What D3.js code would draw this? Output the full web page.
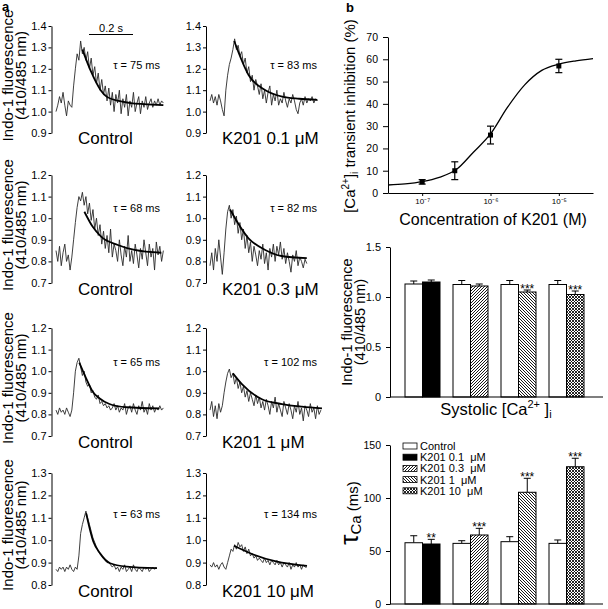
<!DOCTYPE html>
<html><head><meta charset="utf-8">
<script src="https://cdn.jsdelivr.net/npm/d3@7"></script>
<style>body{margin:0;background:#fff} svg{display:block;font-family:"Liberation Sans",Arial,sans-serif}</style>
</head><body><svg id="fig" width="608" height="609"></svg>
<script>
// ---------------- DATA ----------------
// Panel a: Indo-1 traces, one sample every 8 ms
const sampleMs = 8;
const conditions = ["Control", "K201 0.1 \u03bcM", "Control", "K201 0.3 \u03bcM", "Control", "K201 1 \u03bcM", "Control", "K201 10 \u03bcM"];
const tauMs = [75, 83, 68, 82, 65, 102, 63, 134];
const rowDomains = [[0.9, 1.4], [0.7, 1.2], [0.7, 1.2], [0.8, 1.3]];
const rowTicks = [[0.9,1.0,1.1,1.2,1.3,1.4],[0.7,0.8,0.9,1.0,1.1,1.2],[0.7,0.8,0.9,1.0,1.1,1.2],[0.8,0.9,1.0,1.1,1.2,1.3]];

const traceControlA = [1.00,1.03,1.07,1.04,1.09,1.03,0.98,1.05,1.03,1.02,
 1.12,1.20,1.27,1.24,
 1.33,1.27,1.30,1.24,1.28,1.20,1.25,1.17,1.21,1.13,1.18,1.10,1.15,1.08,1.12,1.05,1.11,1.03,1.09,1.00,
 1.08,1.04,1.10,0.99,1.06,1.02,1.08,0.98,1.05,1.02,1.09,1.00,1.04,1.07,0.99,1.05,1.02,1.07,1.01,1.04,
 1.06,1.02,1.05,1.03,1.06,1.03,1.05,1.04];
const traceK201_01 = [1.05,1.08,1.04,1.07,1.03,1.08,1.05,1.01,0.98,
 1.10,1.17,1.22,1.25,1.29,
 1.34,1.29,1.31,1.26,1.28,1.22,1.25,1.18,1.21,1.14,1.17,1.10,1.15,1.12,1.08,1.13,1.06,1.10,1.04,1.09,
 1.12,1.03,1.08,1.05,1.10,1.03,1.06,1.04,1.09,1.05,1.02,1.06,1.04,1.08,1.05,1.01,0.99,1.04,1.06,1.03,
 1.07,1.04,1.06,1.05,1.07,1.04,1.06,1.05];
const traceControlB = [0.85,0.80,0.87,0.78,0.84,0.88,0.80,0.83,0.76,0.82,
 0.90,0.98,1.05,1.10,1.08,
 1.12,1.06,1.10,1.02,1.07,0.99,1.04,0.95,1.00,0.92,0.97,0.88,0.94,0.86,0.92,0.84,0.95,0.82,0.88,0.85,
 0.80,0.90,0.83,0.78,0.87,0.82,0.92,0.80,0.85,0.79,0.88,0.83,0.77,0.86,0.81,0.90,0.84,0.78,0.88,0.82,
 0.86,0.76,0.89,0.83,0.87,0.80,0.85];
const traceK201_03 = [0.78,0.84,0.76,0.86,0.80,0.90,0.82,0.74,0.84,
 0.95,1.03,1.06,
 1.00,1.04,0.97,1.01,0.93,0.98,0.90,0.95,0.86,0.92,0.84,0.89,0.80,0.87,0.83,0.78,0.85,0.81,0.88,0.79,
 0.84,0.76,0.86,0.82,0.88,0.80,0.87,0.83,0.89,0.81,0.86,0.79,0.84,0.80,0.75,0.83,0.80,0.85,0.78,0.82,
 0.80,0.77,0.81,0.79];
const traceControlC = [0.82,0.80,0.83,0.81,0.82,0.80,0.83,0.81,0.79,0.82,
 0.90,1.00,1.04,
 1.06,1.02,0.98,1.00,0.95,0.93,0.94,0.90,0.91,0.88,0.87,0.89,0.85,0.86,0.84,0.85,0.83,0.84,0.82,0.83,
 0.85,0.82,0.84,0.81,0.83,0.82,0.85,0.80,0.83,0.84,0.81,0.85,0.82,0.80,0.84,0.82,0.86,0.81,0.83,0.80,
 0.85,0.82,0.84,0.81,0.83,0.82,0.84,0.82,0.83];
const traceK201_1 = [0.82,0.86,0.79,0.84,0.78,0.85,0.81,0.84,
 0.90,0.95,0.99,1.01,
 0.97,0.99,0.94,0.97,0.92,0.95,0.90,0.93,0.88,0.91,0.86,0.90,0.87,0.84,0.89,0.85,0.88,0.83,0.86,0.82,
 0.87,0.84,0.80,0.86,0.83,0.88,0.81,0.85,0.82,0.79,0.86,0.83,0.80,0.85,0.82,0.78,0.84,0.81,0.86,0.80,
 0.83,0.77,0.84,0.82,0.79,0.85,0.81,0.83,0.78,0.84,0.80,0.82];
const traceControlD = [0.87,0.86,0.88,0.87,0.88,0.86,0.88,0.87,0.89,0.87,0.86,0.88,0.87,
 0.93,1.03,1.07,1.10,1.13,1.10,1.07,1.04,1.01,0.99,0.97,0.95,0.94,0.93,0.92,0.91,0.90,0.90,0.89,0.88,
 0.89,0.87,0.88,0.86,0.88,0.87,0.89,0.86,0.87,0.88,0.86,0.89,0.87,0.86,0.88,0.87,0.86,0.88,0.87,0.88,
 0.86,0.87,0.88,0.87,0.88];
const traceK201_10 = [0.89,0.88,0.90,0.88,0.89,0.87,0.89,0.90,0.88,0.87,
 0.90,0.93,0.96,0.95,0.98,0.96,0.99,0.97,0.98,0.95,0.97,0.94,0.96,0.93,0.94,0.92,0.93,0.91,0.92,0.91,
 0.90,0.92,0.90,0.91,0.89,0.91,0.90,0.89,0.91,0.89,0.90,0.88,0.90,0.89,0.88,0.90,0.87,0.89,0.88,0.90,
 0.88,0.89,0.87,0.89,0.88,0.88];

// fitted exponential decays, [time ms, ratio]
const fitControlA = [[120,1.29],[158,1.19],[203,1.10],[230,1.07],[285,1.05],[340,1.04],[400,1.035],[488,1.03]];
const fitK201_01 = [[110,1.33],[176,1.17],[252,1.10],[328,1.07],[405,1.06],[488,1.055]];
const fitControlB = [[129,1.03],[167,0.96],[205,0.915],[281,0.876],[357,0.853],[479,0.84]];
const fitK201_03 = [[91,1.04],[175,0.907],[251,0.853],[325,0.825],[440,0.815]];
const fitControlC = [[106,1.04],[137,0.967],[167,0.905],[197,0.875],[243,0.848],[320,0.833],[470,0.828]];
const fitK201_1 = [[104,0.99],[145,0.94],[236,0.87],[327,0.848],[418,0.836],[509,0.828]];
const fitControlD = [[137,1.12],[170,0.993],[201,0.94],[246,0.897],[322,0.882],[459,0.875]];
const fitK201_10 = [[109,0.975],[200,0.935],[300,0.905],[441,0.885]];

// Panel b (top): dose-response
const concM = [1e-7, 3e-7, 1e-6, 1e-5];
const inhibition = [5, 10, 26, 57];
const inhibitionErr = [1, 4, 4, 3];
const fitLogConc = [-7.5, -7.25, -7, -6.75, -6.5, -6.25, -6, -5.75, -5.5, -5.25, -5, -4.75, -4.5];
const fitInhibition = [3.6, 4.1, 5.1, 7.0, 10.5, 18.3, 26.5, 38.5, 48.5, 55, 57.8, 59.3, 60.3];
const concTicks = [1e-7, 1e-6, 1e-5];
const concTickLabels = ["10\u207b\u2077", "10\u207b\u2076", "10\u207b\u2075"];

// Panel b (middle/bottom): bars
const barGroups = ["0.1", "0.3", "1", "10"];
const systolicControl = [1.13, 1.125, 1.125, 1.125];
const systolicControlErr = [0.03, 0.04, 0.04, 0.04];
const systolicK201 = [1.15, 1.11, 1.05, 1.025];
const systolicK201Err = [0.02, 0.02, 0.02, 0.035];
const systolicStars = ["", "", "***", "***"];
const tauControl = [57.8, 57.2, 58.8, 57.2];
const tauControlErr = [6.6, 2.5, 4.7, 3.2];
const tauK201 = [56.6, 65.1, 105.4, 129.5];
const tauK201Err = [4.4, 6.3, 13.2, 8.0];
const tauStars = ["**", "***", "***", "***"];
const legendLabels = ["Control", "K201 0.1 \u00a0\u03bcM", "K201 0.3 \u00a0\u03bcM", "K201 1 \u00a0\u03bcM", "K201 10 \u00a0\u03bcM"];

// ---------------- DRAWING ----------------
const svg = d3.select("#fig");
const FONT = '"Liberation Sans",Arial,sans-serif';
const defs = svg.append("defs");
function pat(id, d, w) {
  const p = defs.append("pattern").attr("id", id).attr("patternUnits", "userSpaceOnUse")
    .attr("width", 3).attr("height", 3);
  p.append("rect").attr("width", 3).attr("height", 3).attr("fill", "#fff");
  p.append("path").attr("d", d).attr("stroke", "#000").attr("stroke-width", w).attr("fill", "none");
}
pat("fwd", "M-1,1 L1,-1 M0,3 L3,0 M2,4 L4,2", 0.9);
pat("bwd", "M-1,2 L1,4 M0,0 L3,3 M2,-1 L4,1", 0.9);
pat("cross", "M-1,1 L1,-1 M0,3 L3,0 M2,4 L4,2 M-1,2 L1,4 M0,0 L3,3 M2,-1 L4,1", 0.85);
const drugFills = ["#000", "url(#fwd)", "url(#bwd)", "url(#cross)"];

function styleAxis(g, size) {
  g.attr("font-family", FONT).attr("font-size", size);
  g.selectAll("text").attr("fill", "#000");
  g.selectAll("line,path").attr("stroke", "#000");
}

// panel letters
svg.append("text").attr("x", 2).attr("y", 11).attr("font-weight", "bold").attr("font-size", 13).attr("font-family", FONT).text("a");
svg.append("text").attr("x", 346).attr("y", 12).attr("font-weight", "bold").attr("font-size", 13).attr("font-family", FONT).text("b");

// ---- Panel a ----
const traces = [traceControlA, traceK201_01, traceControlB, traceK201_03, traceControlC, traceK201_1, traceControlD, traceK201_10];
const fits = [fitControlA, fitK201_01, fitControlB, fitK201_03, fitControlC, fitK201_1, fitControlD, fitK201_10];
const rowY = [[26, 133], [175, 283], [328, 436], [473, 585]];
const axisX = [51.5, 206];
const traceX0 = [56, 210];
const labelX = [78, 222];
const labelBase = [144, 295, 448, 597];

for (let i = 0; i < 8; i++) {
  const r = Math.floor(i / 2), c = i % 2;
  const y = d3.scaleLinear().domain(rowDomains[r]).range([rowY[r][1], rowY[r][0]]);
  const x = d3.scaleLinear().domain([0, 200]).range([traceX0[c], traceX0[c] + 44]);
  const ax = svg.append("g").attr("transform", `translate(${axisX[c]},0)`)
    .call(d3.axisLeft(y).tickValues(rowTicks[r]).tickSize(3).tickSizeOuter(0).tickPadding(2).tickFormat(d3.format(".1f")));
  styleAxis(ax, 11);
  const line = d3.line().x((d, k) => x(k * sampleMs)).y(d => y(d));
  svg.append("path").datum(traces[i]).attr("d", line).attr("fill", "none")
    .attr("stroke", "#2a2a2a").attr("stroke-width", 0.9).attr("stroke-linejoin", "round");
  const fl = d3.line().x(d => x(d[0])).y(d => y(d[1])).curve(d3.curveMonotoneX);
  svg.append("path").datum(fits[i]).attr("d", fl).attr("fill", "none").attr("stroke", "#000").attr("stroke-width", 1.8);
  svg.append("text").attr("x", c === 0 ? 160 : 317).attr("y", [69, 69, 212, 212, 366, 366, 518, 518][i])
    .attr("text-anchor", "end").attr("font-size", 11).attr("font-family", FONT)
    .text(`\u03c4 = ${tauMs[i]} ms`);
  svg.append("text").attr("x", labelX[c]).attr("y", labelBase[r]).attr("font-size", 17).attr("font-family", FONT)
    .text(conditions[i]);
  if (c === 0) {
    const cy = (rowY[r][0] + rowY[r][1]) / 2 - 4;
    svg.append("text").attr("transform", `translate(13,${cy}) rotate(-90)`).attr("text-anchor", "middle")
      .attr("font-size", 15).attr("font-family", FONT).text("Indo-1 fluorescence");
    svg.append("text").attr("transform", `translate(26,${cy}) rotate(-90)`).attr("text-anchor", "middle")
      .attr("font-size", 15).attr("font-family", FONT).text("(410/485 nm)");
  }
  if (i === 0) {
    svg.append("line").attr("x1", x(0) + 33).attr("x2", x(200) + 33).attr("y1", 34.5).attr("y2", 34.5).attr("stroke", "#000").attr("stroke-width", 1.2);
    svg.append("text").attr("x", x(100) + 33).attr("y", 32).attr("text-anchor", "middle").attr("font-size", 11).attr("font-family", FONT).text("0.2 s");
  }
}

// ---- Panel b top: dose-response ----
{
  const x = d3.scaleLog().domain([Math.pow(10, -7.5), Math.pow(10, -4.5)]).range([388, 593]);
  const y = d3.scaleLinear().domain([0, 70]).range([193, 37]);
  const ay = svg.append("g").attr("transform", "translate(388,0)")
    .call(d3.axisLeft(y).tickValues(d3.range(0, 71, 10)).tickSize(5).tickSizeOuter(0).tickPadding(5));
  styleAxis(ay, 10.5);
  const axb = svg.append("g").attr("transform", "translate(0,193)")
    .call(d3.axisBottom(x).tickValues(concTicks).tickSize(3).tickSizeOuter(0).tickPadding(2)
      .tickFormat((d, k) => concTickLabels[k]));
  styleAxis(axb, 8);
  const fl = d3.line().x((d, k) => x(Math.pow(10, d))).y((d, k) => y(fitInhibition[k])).curve(d3.curveMonotoneX);
  svg.append("path").datum(fitLogConc).attr("d", fl).attr("fill", "none").attr("stroke", "#000").attr("stroke-width", 1.3);
  concM.forEach((cM, k) => {
    const px = x(cM);
    const y1 = y(inhibition[k] + inhibitionErr[k]), y2 = y(inhibition[k] - inhibitionErr[k]);
    svg.append("line").attr("x1", px).attr("x2", px).attr("y1", y1).attr("y2", y2).attr("stroke", "#000").attr("stroke-width", 1.2);
    [y1, y2].forEach(yy => svg.append("line").attr("x1", px - 3.5).attr("x2", px + 3.5).attr("y1", yy).attr("y2", yy).attr("stroke", "#000").attr("stroke-width", 1.2));
    svg.append("rect").attr("x", px - 2.5).attr("y", y(inhibition[k]) - 2.5).attr("width", 5).attr("height", 5).attr("fill", "#000");
  });
  const t = svg.append("text").attr("transform", "translate(355,116) rotate(-90)").attr("text-anchor", "middle")
    .attr("font-size", 15).attr("font-family", FONT);
  t.append("tspan").text("[Ca");
  t.append("tspan").attr("font-size", 10).attr("dy", -6).text("2+");
  t.append("tspan").attr("dy", 6).text("]");
  t.append("tspan").attr("font-size", 10).attr("dy", 3).text("i");
  t.append("tspan").attr("dy", -3).text(" transient inhibition (%)");
  svg.append("text").attr("x", 493).attr("y", 225).attr("text-anchor", "middle").attr("font-size", 16).attr("font-family", FONT)
    .text("Concentration of K201 (M)");
}

// ---- bar chart helper ----
function barChart(y0px, y1px, domain, ticks, fmt, ctrl, ctrlErr, drug, drugErr, stars, tickFont) {
  const y = d3.scaleLinear().domain(domain).range([y0px, y1px]);
  const xg = d3.scaleBand().domain(barGroups).range([390, 599]).paddingInner(13 / 48).paddingOuter(15 / 48);
  const xs = d3.scaleBand().domain(["ctrl", "drug"]).range([0, xg.bandwidth()]);
  const ay = svg.append("g").attr("transform", "translate(390,0)")
    .call(d3.axisLeft(y).tickValues(ticks).tickSize(4).tickSizeOuter(0).tickPadding(5).tickFormat(fmt));
  styleAxis(ay, tickFont);
  barGroups.forEach((g, k) => {
    const items = [["ctrl", ctrl[k], ctrlErr[k], "#fff"], ["drug", drug[k], drugErr[k], drugFills[k]]];
    items.forEach(([s, v, e, fill]) => {
      const bx = xg(g) + xs(s), bw = xs.bandwidth();
      const et = y(v + e);
      svg.append("line").attr("x1", bx + bw / 2).attr("x2", bx + bw / 2).attr("y1", y(v)).attr("y2", et).attr("stroke", "#000").attr("stroke-width", 1);
      svg.append("line").attr("x1", bx + bw / 2 - 3.5).attr("x2", bx + bw / 2 + 3.5).attr("y1", et).attr("y2", et).attr("stroke", "#000").attr("stroke-width", 1);
      svg.append("rect").attr("x", bx).attr("y", y(v)).attr("width", bw).attr("height", y(domain[0]) - y(v))
        .attr("fill", fill).attr("stroke", "#000").attr("stroke-width", 1);
      if (s === "drug" && stars[k]) {
        svg.append("text").attr("x", bx + bw / 2).attr("y", et + 3).attr("text-anchor", "middle").attr("font-size", 12).attr("font-family", FONT).text(stars[k]);
      }
    });
  });
  svg.append("line").attr("x1", 390).attr("x2", 603).attr("y1", y(domain[0])).attr("y2", y(domain[0])).attr("stroke", "#000").attr("stroke-width", 1.2);
}

barChart(397, 247, [0, 1.5], [0, 0.5, 1.0, 1.5], d => d === 0 ? "0" : d.toFixed(1),
  systolicControl, systolicControlErr, systolicK201, systolicK201Err, systolicStars, 11);
svg.append("text").attr("transform", "translate(352,322) rotate(-90)").attr("text-anchor", "middle").attr("font-size", 14.5).attr("font-family", FONT).text("Indo-1 fluorescence");
svg.append("text").attr("transform", "translate(365,322) rotate(-90)").attr("text-anchor", "middle").attr("font-size", 14.5).attr("font-family", FONT).text("(410/485 nm)");
{
  const t = svg.append("text").attr("x", 496).attr("y", 415).attr("text-anchor", "middle").attr("font-size", 16.5).attr("font-family", FONT);
  t.append("tspan").text("Systolic [Ca");
  t.append("tspan").attr("font-size", 11).attr("dy", -7).text("2+");
  t.append("tspan").attr("dy", 7).text(" ]");
  t.append("tspan").attr("font-size", 11).attr("dy", 3).text("i");
}

barChart(604, 445, [0, 150], [0, 50, 100, 150], d3.format("d"),
  tauControl, tauControlErr, tauK201, tauK201Err, tauStars, 10.5);
{
  const t = svg.append("text").attr("transform", "translate(358,513) rotate(-90)").attr("text-anchor", "middle").attr("font-family", FONT).attr("font-size", 15);
  t.append("tspan").attr("font-size", 26).text("\u03c4");
  t.append("tspan").attr("dy", 3).text("Ca");
  t.append("tspan").attr("dy", -3).text(" (ms)");
}
// legend
const legFills = ["#fff"].concat(drugFills);
legendLabels.forEach((lab, k) => {
  const ly = 446 + k * 11.2;
  svg.append("rect").attr("x", 403).attr("y", ly - 3).attr("width", 14).attr("height", 6).attr("fill", legFills[k]).attr("stroke", "#000").attr("stroke-width", 0.8);
  svg.append("text").attr("x", 420).attr("y", ly + 4).attr("font-size", 11).attr("font-family", FONT).text(lab);
});
</script></body></html>
